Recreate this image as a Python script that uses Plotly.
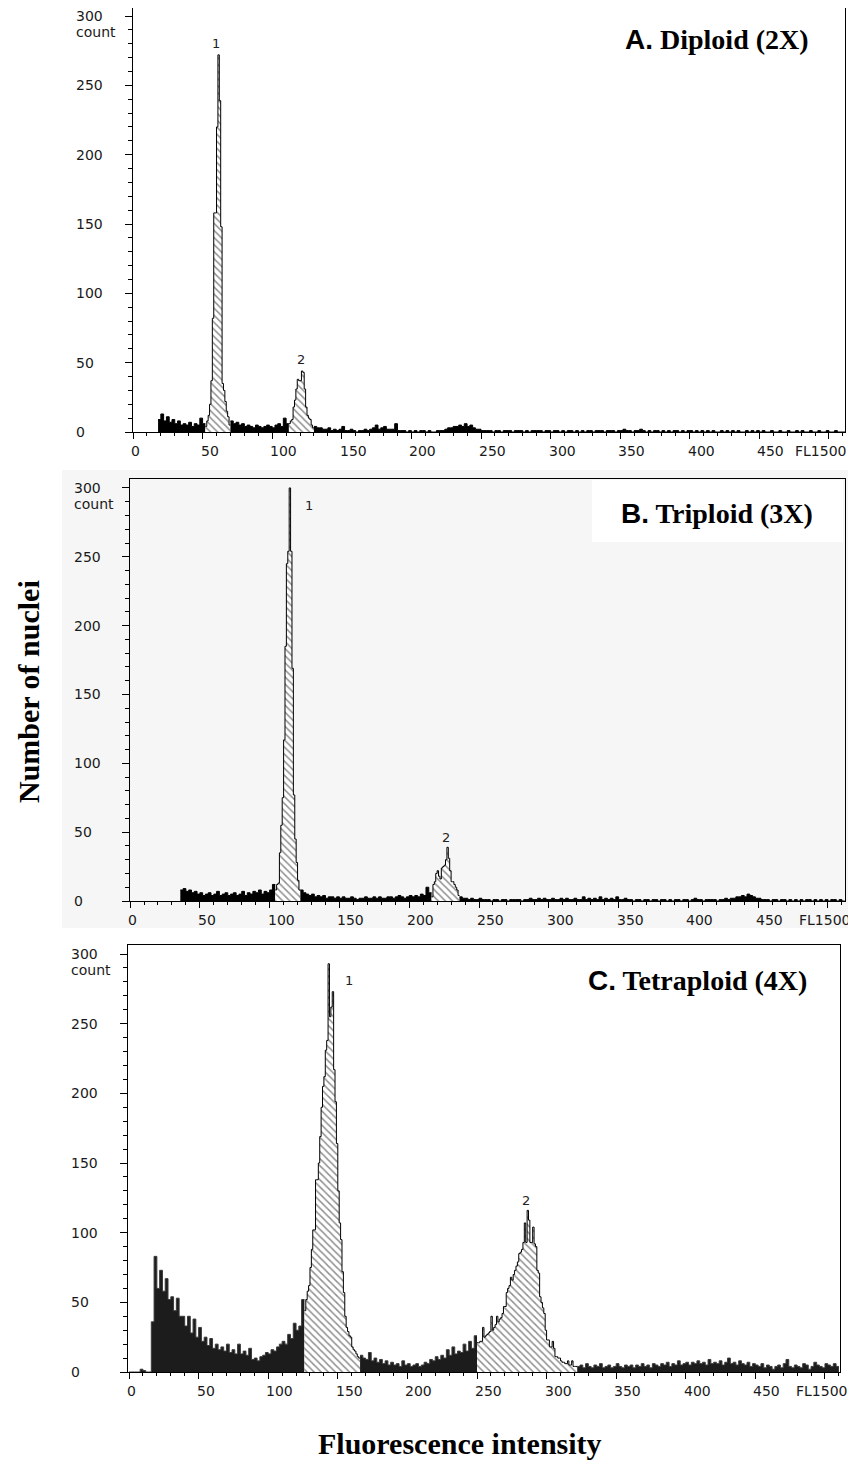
import plotly.graph_objects as go

# page is 856x1467; the HTML body adds an 8 px margin, so the figure is
# made 8 px smaller and every page-pixel position is shifted by 8 px.
OFF = 8
W, H = 848, 1459

# ======================= DATA =======================
# Each histogram is split into runs of channels: background (solid) runs use
# 2-channel bins, gated peak (hatched) runs use 1-channel bins.

# ---- Panel A : Diploid (2X) ----
A_bg1_start = 18
A_bg1 = [9, 13, 8, 11, 7, 9, 6, 8, 5, 6, 5, 7, 4, 6, 5, 10, 6]
A_pk1_start = 52
A_pk1 = [4, 8, 12, 20, 37, 82, 158, 158, 220, 272, 239, 148, 35, 30, 22, 15, 11, 5]
A_bg2_start = 70
A_bg2 = [8, 6, 7, 5, 6, 4, 5, 4, 3, 5, 4, 3, 4, 5, 4, 3, 5, 6, 4, 10, 6]
A_pk2_start = 112
A_pk2 = [6, 8, 9, 18, 23, 31, 38, 37, 37, 44, 43, 31, 18, 12, 10, 9, 5, 3]
A_bg3_start = 130
A_bg3 = [4, 3, 3, 2, 2, 3, 1, 2, 1, 2,
         4, 1, 1, 2, 1, 0, 1, 1, 2, 1,
         2, 3, 5, 2, 3, 4, 2, 2, 2, 6,
         1, 1, 1, 0, 1, 0, 1, 0, 1, 1,
         0, 1, 0, 0, 1, 1, 1, 2, 3, 3,
         4, 4, 5, 4, 6, 4, 5, 3, 2, 2,
         1, 1, 1, 1, 0, 1, 1, 0, 1, 1,
         1, 0, 1, 1, 1, 0, 1, 0, 1, 1,
         1, 1, 0, 1, 1, 0, 1, 1, 0, 1,
         0, 1, 1, 0, 1, 0, 1, 0, 1, 1,
         0, 1, 1, 1, 0, 1, 1, 1, 0, 1,
         1, 2, 1, 1, 0, 1, 1, 2, 1, 0,
         1, 0, 1, 1, 0, 1, 0, 1, 0, 1,
         1, 0, 1, 0, 1, 1, 0, 1, 0, 1,
         0, 1, 0, 1, 0, 0, 1, 0, 1, 0,
         1, 0, 1, 0, 0, 1, 0, 1, 0, 1,
         0, 1, 0, 0, 1, 0, 0, 1, 0, 0,
         1, 0, 0, 1, 0, 1, 0, 0, 1, 0,
         0, 1, 0, 0, 1, 0, 0, 1, 0, 0,
         0]

# ---- Panel B : Triploid (3X) ----
B_bg1_start = 36
B_bg1 = [8, 9, 7, 8, 6, 7, 5, 6, 4, 5, 6, 4, 5, 7, 4, 5, 6, 4, 5, 6,
         4, 5, 7, 4, 6, 5, 7, 6, 8, 5, 7, 6, 8, 12]
B_pk1_start = 104
B_pk1 = [8, 12, 13, 35, 55, 75, 117, 185, 245, 254, 300, 254, 169, 77, 45, 28, 15, 8]
B_bg2_start = 122
B_bg2 = [8, 6, 5, 4, 5, 3, 4, 3, 4, 2,
         3, 3, 2, 3, 2, 3, 2, 2, 3, 2,
         1, 2, 2, 3, 2, 2, 3, 2, 3, 2,
         2, 3, 3, 2, 3, 4, 3, 2, 3, 4,
         3, 4, 3, 5, 4, 10, 6]
B_pk2_start = 216
B_pk2 = [3, 12, 14, 20, 22, 18, 16, 24, 25, 26, 30, 39, 31, 22, 14, 14, 12, 10, 8, 4]
B_bg3_start = 236
B_bg3 = [3, 2, 2, 1, 2, 1, 1, 2, 1, 1,
         1, 0, 1, 1, 0, 1, 1, 0, 1, 1,
         1, 1, 0, 1, 1, 2, 1, 1, 2, 1,
         2, 1, 1, 2, 1, 1, 2, 1, 2, 1,
         1, 2, 1, 1, 3, 1, 2, 1, 2, 1,
         3, 1, 2, 1, 2, 1, 3, 1, 1, 2,
         1, 1, 0, 1, 1, 0, 1, 1, 0, 1,
         1, 0, 1, 1, 0, 1, 0, 1, 1, 0,
         1, 1, 0, 1, 2, 1, 1, 0, 1, 1,
         1, 1, 0, 1, 1, 2, 1, 2, 2, 3,
         3, 4, 3, 5, 4, 3, 2, 2, 1, 1,
         1, 0, 1, 1, 0, 1, 1, 0, 1, 0,
         1, 0, 1, 0, 1, 1, 0, 1, 0, 1,
         0, 1, 0, 1, 1, 0, 1, 0]

# ---- Panel C : Tetraploid (4X) ----
C_bg1_start = 0
C_bg1 = [0, 0, 0, 0, 2, 1, 0, 0,
         36, 83, 60, 73, 58, 67, 52, 54, 44, 53,
         40, 40, 33, 40, 28, 38, 25, 32, 22, 25,
         19, 24, 17, 20, 16, 18, 15, 20, 14, 16,
         13, 20, 13, 15, 12, 17, 9, 10, 8, 11,
         12, 14, 13, 16, 15, 18, 20, 22, 20, 27,
         24, 35, 30, 33, 52]
C_pk1_start = 126
C_pk1 = [44, 52, 58, 62, 75, 88, 102, 102, 138, 138,
         150, 169, 190, 205, 212, 231, 238, 293, 255, 262,
         273, 217, 194, 164, 130, 107, 95, 72, 57, 40,
         32, 29, 26, 25, 18, 16, 15, 13, 11, 10]
C_bg2_start = 166
C_bg2 = [12, 10, 9, 14, 8, 10, 7, 9, 6, 8,
         5, 7, 5, 6, 4, 8, 5, 6, 4, 5,
         6, 4, 5, 7, 6, 9, 8, 11, 9, 12,
         10, 16, 12, 18, 13, 15, 14, 20, 15, 22,
         17, 26]
C_pk2_start = 250
C_pk2 = [21, 21, 22, 22, 32, 25, 26, 27, 28, 29,
         40, 30, 32, 34, 40, 36, 38, 39, 42, 47,
         47, 57, 60, 62, 68, 66, 70, 73, 76, 79,
         85, 86, 88, 93, 107, 93, 116, 109, 93, 93,
         104, 92, 90, 73, 71, 54, 50, 46, 42, 30,
         23, 23, 18, 18, 22, 17, 11, 11, 10, 10,
         8, 7, 7, 6, 6, 8, 5, 5, 8, 4,
         4, 4]
C_bg3_start = 322
C_bg3 = [4, 5, 3, 6, 4, 3, 5, 4, 6, 3,
         4, 5, 3, 4, 6, 4, 3, 5, 4, 5,
         3, 5, 4, 6, 4, 5, 3, 6, 5, 4,
         6, 5, 7, 4, 6, 5, 8, 5, 6, 7,
         5, 7, 6, 8, 6, 7, 5, 9, 6, 7,
         6, 8, 5, 7, 10, 6, 7, 5, 8, 6,
         5, 7, 4, 6, 5, 4, 6, 3, 5, 4,
         2, 4, 5, 3, 6, 9, 4, 3, 5, 4,
         3, 6, 5, 2, 4, 7, 5, 4, 3, 6,
         5, 4, 6, 4]

Y_TICKS = [0, 50, 100, 150, 200, 250, 300]
X_TICKS = [0, 50, 100, 150, 200, 250, 300, 350, 400, 450]
X_LAST_LABEL = "FL1500"
TITLES = ["Diploid (2X)", "Triploid (3X)", "Tetraploid (4X)"]
LETTERS = ["A.", "B.", "C."]
PEAK_LABELS = ["1", "2"]


def fx(px):
    """page x pixel -> paper fraction"""
    return (px - OFF) / W


def fy(py):
    """page y pixel -> paper fraction"""
    return 1 - (py - OFF) / H


# ======================= LAYOUT / STYLE =======================
panels = [
    dict(segs=[(A_bg1_start, 2, A_bg1, "bg"), (A_pk1_start, 1, A_pk1, "pk"),
               (A_bg2_start, 2, A_bg2, "bg"), (A_pk2_start, 1, A_pk2, "pk"),
               (A_bg3_start, 2, A_bg3, "bg")],
         box=(133, 8, 845, 432), xr=[0, 511.5], yr=[0, 305.8],
         ylab_x=74, title_r=811, title_y=40, fl_r=848,
         peaks=[(59.6, 280), (120.7, 52)], bgfill="black", bgline="black"),
    dict(segs=[(B_bg1_start, 2, B_bg1, "bg"), (B_pk1_start, 1, B_pk1, "pk"),
               (B_bg2_start, 2, B_bg2, "bg"), (B_pk2_start, 1, B_pk2, "pk"),
               (B_bg3_start, 2, B_bg3, "bg")],
         box=(129.5, 479, 845, 901), xr=[-0.4, 512.2], yr=[0, 306.5],
         ylab_x=72, title_r=815, title_y=513, fl_r=852,
         peaks=[(128.2, 287), (226.4, 46)], bgfill="black", bgline="black"),
    dict(segs=[(C_bg1_start, 2, C_bg1, "bg"), (C_pk1_start, 1, C_pk1, "pk"),
               (C_bg2_start, 2, C_bg2, "bg"), (C_pk2_start, 1, C_pk2, "pk"),
               (C_bg3_start, 2, C_bg3, "bg")],
         box=(127.5, 945, 840, 1372), xr=[-1.1, 510.8], yr=[0, 306.5],
         ylab_x=69, title_r=809, title_y=980, fl_r=849,
         peaks=[(158, 281), (285.2, 123)], bgfill="#1c1c1c", bgline="#3a3a3a"),
]

TICK_FONT = dict(family="DejaVu Sans", size=14, color="#1a1a1a")

fig = go.Figure()
layout = dict(width=W, height=H, margin=dict(l=0, r=0, t=0, b=0),
              paper_bgcolor="white", plot_bgcolor="rgba(0,0,0,0)",
              showlegend=False)
annotations = []
shapes = []

# light grey scan background of panel B, with white box behind its title
shapes.append(dict(type="rect", xref="paper", yref="paper", layer="below",
                   x0=fx(62), x1=1.0, y0=fy(928), y1=fy(470),
                   fillcolor="#f6f6f6", line=dict(width=0)))
shapes.append(dict(type="rect", xref="paper", yref="paper", layer="below",
                   x0=fx(592), x1=fx(843), y0=fy(542), y1=fy(480),
                   fillcolor="white", line=dict(width=0)))

for i, p in enumerate(panels):
    n = "" if i == 0 else str(i + 1)
    xa, ya = "x" + n, "y" + n
    L, T, R, B = p["box"]
    for start, w, counts, kind in p["segs"]:
        xs = [start + k * w for k in range(len(counts) + 1)]
        ys = list(counts) + [counts[-1]]
        if kind == "bg":
            fig.add_trace(go.Scatter(x=xs, y=ys, xaxis=xa, yaxis=ya, mode="lines",
                                     line=dict(shape="hv", color=p["bgline"], width=1),
                                     fill="tozeroy", fillcolor=p["bgfill"],
                                     hoverinfo="skip"))
        else:
            fig.add_trace(go.Scatter(x=xs, y=ys, xaxis=xa, yaxis=ya, mode="lines",
                                     line=dict(shape="hv", color="black", width=1),
                                     fill="tozeroy", fillcolor="white",
                                     fillpattern=dict(shape="\\", fgcolor="#222",
                                                      bgcolor="white", size=5,
                                                      solidity=0.3),
                                     hoverinfo="skip"))
    axcommon = dict(showline=True, mirror=True, linecolor="black", linewidth=1,
                    ticks="outside", tickcolor="black", tickwidth=1,
                    showgrid=False, zeroline=False, showticklabels=False,
                    fixedrange=True)
    layout["xaxis" + n] = dict(axcommon, domain=[fx(L), fx(R)], range=p["xr"],
                               anchor=ya, tick0=0, dtick=50, ticklen=6,
                               minor=dict(dtick=10, tick0=0, ticklen=3, ticks="outside",
                                          tickcolor="black", showgrid=False))
    layout["yaxis" + n] = dict(axcommon, domain=[fy(B), fy(T)], range=p["yr"],
                               anchor=xa, tick0=0, dtick=50, ticklen=7,
                               minor=dict(dtick=10, tick0=0, ticklen=4, ticks="outside",
                                          tickcolor="black", showgrid=False))
    # y tick labels (left aligned, as in the original instrument print-out)
    for v in Y_TICKS:
        annotations.append(dict(text=str(v), xref="paper", x=fx(p["ylab_x"]),
                                xanchor="left", yref=ya, y=v, yanchor="middle",
                                showarrow=False, font=TICK_FONT))
    annotations.append(dict(text="count", xref="paper", x=fx(p["ylab_x"]),
                            xanchor="left", yref=ya, y=Y_TICKS[-1], yanchor="middle",
                            yshift=-16, showarrow=False, font=TICK_FONT))
    # x tick labels
    for v in X_TICKS:
        annotations.append(dict(text=str(v), xref=xa, x=v, xanchor="left", xshift=-4,
                                yref=ya, y=0, yanchor="middle", yshift=-19,
                                showarrow=False, font=TICK_FONT))
    annotations.append(dict(text=X_LAST_LABEL, xref="paper", x=fx(p["fl_r"]),
                            xanchor="right", yref=ya, y=0, yanchor="middle",
                            yshift=-19, showarrow=False, font=TICK_FONT))
    # peak labels
    for (px, py), lab in zip(p["peaks"], PEAK_LABELS):
        annotations.append(dict(text=lab, xref=xa, x=px, yref=ya, y=py,
                                xanchor="center", yanchor="middle", showarrow=False,
                                font=dict(family="DejaVu Sans", size=13, color="#222")))
    # panel title
    annotations.append(dict(
        text="<b><span style='font-family:Liberation Sans'>" + LETTERS[i] +
             "</span> " + TITLES[i] + "</b>",
        xref="paper", x=fx(p["title_r"]), xanchor="right",
        yref="paper", y=fy(p["title_y"]), yanchor="middle", showarrow=False,
        font=dict(family="Liberation Serif", size=28, color="black")))

# axis titles
annotations.append(dict(text="<b>Number of nuclei</b>", xref="paper", x=fx(28),
                        yref="paper", y=fy(692), textangle=-90, showarrow=False,
                        xanchor="center", yanchor="middle",
                        font=dict(family="Liberation Serif", size=30, color="black")))
annotations.append(dict(text="<b>Fluorescence intensity</b>", xref="paper", x=fx(460),
                        yref="paper", y=fy(1443), showarrow=False,
                        xanchor="center", yanchor="middle",
                        font=dict(family="Liberation Serif", size=30, color="black")))

layout["annotations"] = annotations
layout["shapes"] = shapes
fig.update_layout(**layout)
fig.write_html("out.html")
